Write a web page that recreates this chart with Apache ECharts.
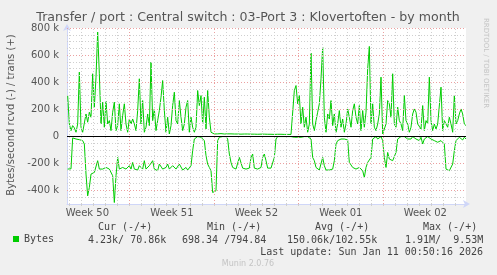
<!DOCTYPE html>
<html><head><meta charset="utf-8">
<script src="https://cdn.jsdelivr.net/npm/echarts@6/dist/echarts.min.js"></script>
<style>html,body{margin:0;padding:0;background:#f0f0f0}#c{width:497px;height:275px}</style>
</head><body><div id="c"></div>
<script>
const TITLE = 'Transfer / port : Central switch : 03-Port 3 : Klovertoften - by month';
const Y_NAME = 'Bytes/second rcvd (-) / trans (+)';
const SERIES_NAME = 'Bytes';
const weekLabels = ['Week 50', 'Week 51', 'Week 52', 'Week 01', 'Week 02'];
// hours from left edge of the graph
const weekCentersH = [40.6, 208.6, 376.6, 544.6, 712.6];
const FIRST_MIDNIGHT_H = 4.6;
const DAY_COUNT = 33;
const MONDAY_OFFSET = 5;           // index of first Monday midnight among day lines
const X_MAX_H = 793.6;
const SAMPLE_START_H = 1.33;
const SAMPLE_STEP_H = 3.315;
const yTickLabelsK = [-400, -200, 0, 200, 400, 600, 800];
const Y_MIN_K = -500, Y_MAX_K = 800, Y_GRID_STEP_K = 50;

// trans (+), k bytes/s
const transK = [
301, 91, 42, 79, 62, 30, 91, 474, 67, 30,
17, 165, 104, 178, 141, 462, 215, 437, 770, 462,
91, 252, 67, 259, 91, 116, 42, 178, 252, 42,
79, 240, 42, 153, 240, 91, 30, 128, 91, 128,
91, 42, 190, 425, 91, 264, 30, 67, 165, 79,
548, 116, 202, 42, 116, 190, 289, 412, 190, 30,
141, 17, 79, 227, 326, 116, 91, 264, 141, 42,
91, 215, 264, 30, 141, 67, 30, 67, 338, 227,
301, 91, 289, 54, 338, 141, 30, 22, 17, 15,
18, 18, 20, 18, 17, 18, 18, 17, 18, 17,
17, 18, 17, 17, 16, 17, 17, 16, 17, 16,
16, 17, 16, 16, 15, 16, 16, 15, 16, 15,
15, 16, 15, 15, 14, 15, 15, 14, 15, 14,
14, 15, 14, 15, 14, 14,
338, 375, 240, 301, 91, 215, 67, 141, 30, 91,
615, 91, 42, 116, 178, 240, 425, 659, 141, 30,
165, 128, 264, 79, 165, 30, 91, 190, 67, 128,
30, 91, 202, 141, 67, 190, 240, 141, 91, 227,
42, 190, 67, 178, 499, 664, 91, 240, 67, 42,
91, 165, 437, 17, 17, 91, 264, 240, 141, 462,
91, 67, 215, 116, 91, 42, 301, 116, 91, 30,
67, 165, 202, 178, 91, 91, 54, 227, 42, 116,
91, 437, 116, 42, 91, 54, 91, 104, 363, 42,
116, 91, 67, 141, 91, 30, 301, 91, 116, 165,
202, 165, 91, 79
];

// rcvd (-), k bytes/s, drawn negative
const rcvdK = [
-242, -242, -240, -12, -20, -20, -20, -25, -25, -32,
-57, -279, -440, -378, -279, -279, -267, -254, -180, -242,
-230, -242, -235, -230, -225, -242, -242, -291, -489, -291,
-156, -242, -254, -230, -242, -242, -235, -217, -242, -193,
-242, -249, -249, -217, -230, -242, -180, -242, -249, -217,
-230, -180, -242, -249, -254, -205, -193, -242, -249, -230,
-205, -242, -249, -217, -230, -242, -235, -205, -217, -249,
-242, -230, -249, -254, -217, -106, -20, -7, -2, -7,
-7, -20, -32, -143, -205, -230, -254, -415, -427, -402,
-32, -7, -2, -2, -2, -2, -20, -131, -193, -230,
-242, -242, -230, -156, -151, -235, -242, -242, -230, -235,
-156, -131, -235, -242, -242, -230, -230, -156, -131, -180,
-235, -235, -235, -235, -156, -20, -2, -2, -2, -2,
-2, -2, -2, -2, -2, -2,
-7, -20, -7, -20, -7, -2, -2, -7, -2, -7,
-20, -156, -180, -230, -242, -249, -242, -156, -217, -249,
-249, -249, -249, -242, -180, -57, -32, -20, -20, -20,
-20, -20, -27, -193, -205, -230, -235, -242, -242, -230,
-217, -254, -304, -230, -193, -180, -156, -20, -7, -2,
-20, -7, -2, -32, -156, -230, -119, -168, -156, -180,
-168, -119, -20, -7, -2, -7, -2, -7, -20, -7,
-20, -2, -7, -20, -7, -32, -7, -57, -20, -7,
-2, -7, -20, -7, -32, -32, -44, -32, -32, -32,
-57, -242, -254, -254, -249, -205, -106, -32, -20, -7,
-12, -27, -7, -20
];

const legendHeaders = ['Cur (-/+)', 'Min (-/+)', 'Avg (-/+)', 'Max (-/+)'];
const legendValues = ['4.23k/ 70.86k', '698.34 /794.84', '150.06k/102.55k', '1.91M/  9.53M'];
const LAST_UPDATE = 'Last update: Sun Jan 11 00:50:16 2026';
const MUNIN = 'Munin 2.0.76';
const CREDIT = 'RRDTOOL / TOBI OETIKER';

// ---- build ----
const GREEN = '#00cc00';
const MINOR = '#cfcfcf';
const MAJOR = '#eba0a0';
const toPts = arr => arr.map((v, i) => [SAMPLE_START_H + SAMPLE_STEP_H * i, v]);

const dayLines = [];
for (let d = 0; d < DAY_COUNT; d++) {
  const h = FIRST_MIDNIGHT_H + 24 * d;
  if (h < X_MAX_H) dayLines.push({ h, major: (d - MONDAY_OFFSET) % 7 === 0 });
}
const gridMarks = [];
dayLines.forEach(l => gridMarks.push({ xAxis: l.h, lineStyle: { color: l.major ? MAJOR : MINOR, type: [1, 2], width: 1 } }));
for (let v = Y_MIN_K + Y_GRID_STEP_K; v <= Y_MAX_K; v += Y_GRID_STEP_K) {
  if (v === 0) continue;
  const major = yTickLabelsK.indexOf(v) >= 0;
  gridMarks.push({ yAxis: v, lineStyle: { color: major ? MAJOR : MINOR, type: [1, 2], width: 1 } });
}

const mono = '10px "DejaVu Sans Mono"';
const graphics = [
  { type: 'text', x: 248, y: 18, style: { text: TITLE, align: 'center', verticalAlign: 'middle', font: '12.6px "DejaVu Sans"', fill: '#555' } },
  { type: 'text', x: 11, y: 115, rotation: Math.PI / 2, style: { text: Y_NAME, align: 'center', verticalAlign: 'middle', font: '10px "DejaVu Sans"', fill: '#555' } },
  { type: 'text', x: 486, y: 63, rotation: -Math.PI / 2, style: { text: CREDIT, align: 'center', verticalAlign: 'middle', font: '7px "DejaVu Sans"', fill: '#c4c4c4' } },
  { type: 'text', x: 483, y: 252, style: { text: LAST_UPDATE, align: 'right', verticalAlign: 'middle', font: mono, fill: '#444' } },
  { type: 'text', x: 248, y: 264, style: { text: MUNIN, align: 'center', verticalAlign: 'middle', font: '8px "DejaVu Sans"', fill: '#c4c4c4' } }
];
const headerX = [98, 207, 315, 423];
const valueX = [88, 182, 287, 405];
legendHeaders.forEach((t, i) => graphics.push({ type: 'text', x: headerX[i], y: 227, style: { text: t, align: 'left', verticalAlign: 'middle', font: mono, fill: '#444' } }));
legendValues.forEach((t, i) => graphics.push({ type: 'text', x: valueX[i], y: 240, style: { text: t, align: 'left', verticalAlign: 'middle', font: mono, fill: '#444' } }));

const chart = echarts.init(document.getElementById('c'), null, { renderer: 'canvas' });
chart.setOption({
  animation: false,
  backgroundColor: '#f0f0f0',
  grid: { left: 67, top: 28, width: 399, height: 176, show: true, backgroundColor: '#ffffff', borderWidth: 0 },
  legend: {
    data: [SERIES_NAME], left: 13, top: 234, padding: 0, icon: 'rect', itemWidth: 6, itemHeight: 6, itemGap: 6,
    textStyle: { fontFamily: 'DejaVu Sans Mono', fontSize: 10, color: '#444' }
  },
  xAxis: {
    type: 'value', min: 0, max: X_MAX_H,
    axisLine: { show: true, onZero: false, lineStyle: { color: '#cfd6f8', width: 1 }, symbol: ['none', 'arrow'], symbolSize: [6, 7], symbolOffset: [0, 4] },
    axisTick: { show: true, customValues: dayLines.map(l => l.h), length: 2, lineStyle: { color: MINOR } },
    axisLabel: {
      customValues: weekCentersH, margin: 4, fontFamily: 'DejaVu Sans', fontSize: 10, color: '#555',
      formatter: v => {
        let best = 0;
        weekCentersH.forEach((c, i) => { if (Math.abs(c - v) < Math.abs(weekCentersH[best] - v)) best = i; });
        return weekLabels[best];
      }
    },
    splitLine: { show: false }
  },
  yAxis: {
    type: 'value', min: Y_MIN_K, max: Y_MAX_K, interval: Y_GRID_STEP_K,
    axisLine: { show: true, onZero: false, lineStyle: { color: '#cfd6f8', width: 1 }, symbol: ['none', 'arrow'], symbolSize: [6, 7], symbolOffset: [0, 4] },
    axisTick: { show: false },
    axisLabel: {
      margin: 8, fontFamily: 'DejaVu Sans', fontSize: 10, color: '#555',
      formatter: v => yTickLabelsK.indexOf(v) < 0 ? '' : (v === 0 ? '0' : v + ' k')
    },
    splitLine: { show: false }
  },
  graphic: graphics,
  series: [
    { name: 'grid', type: 'line', data: [], z: 1, silent: true,
      markLine: { silent: true, symbol: 'none', label: { show: false }, animation: false, data: gridMarks } },
    { name: SERIES_NAME, type: 'line', data: toPts(transK), showSymbol: false, z: 3,
      lineStyle: { color: GREEN, width: 1 }, itemStyle: { color: GREEN } },
    { name: 'rcvd', type: 'line', data: toPts(rcvdK), showSymbol: false, z: 3,
      lineStyle: { color: GREEN, width: 1 }, itemStyle: { color: GREEN } },
    { name: 'zero', type: 'line', data: [], z: 4, silent: true,
      markLine: { silent: true, symbol: 'none', label: { show: false }, animation: false,
        data: [{ yAxis: 0, lineStyle: { color: '#000', type: 'solid', width: 1 } }] } }
  ]
});
</script></body></html>
